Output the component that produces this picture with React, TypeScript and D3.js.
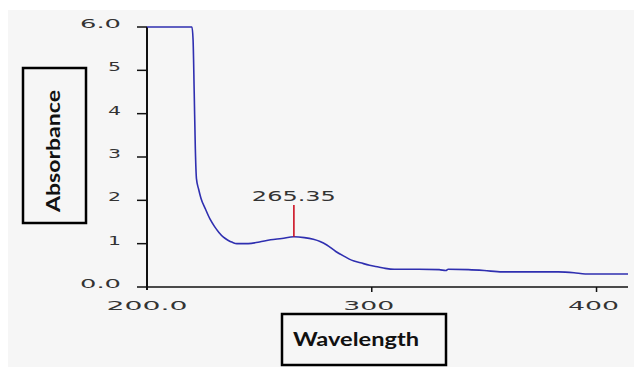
import * as d3 from "d3";

// UV spectrum
const wavelength = [200, 220, 220.5, 221, 221.5, 222, 223, 224, 226, 228, 230, 232, 234, 236, 238, 240, 245, 250, 255, 260, 265.35, 270, 274, 277, 280, 284, 288, 291, 295, 299, 303, 306, 310, 321, 330, 333, 334, 343, 350, 358, 370, 383, 390, 395, 400, 414];
const absorbance = [6.0, 6.0, 5.7, 4.5, 3.2, 2.5, 2.25, 2.05, 1.8, 1.57, 1.4, 1.26, 1.15, 1.08, 1.03, 1.0, 1.0, 1.04, 1.09, 1.12, 1.16, 1.14, 1.1, 1.05, 0.97, 0.82, 0.7, 0.62, 0.56, 0.5, 0.46, 0.43, 0.41, 0.41, 0.4, 0.38, 0.41, 0.4, 0.38, 0.35, 0.35, 0.35, 0.33, 0.3, 0.3, 0.3];

const yTicks = [0, 1, 2, 3, 4, 5, 6];
const yTickLabels = ["0.0", "1", "2", "3", "4", "5", "6.0"];
const xTicks = [200, 300, 400];
const xTickLabels = ["200.0", "300", "400"];

const peakWl = 265.35;
const peakAbs = 1.16;
const peakLabel = "265.35";

const W = 634;
const H = 367;

export default function App() {
  const x = d3.scaleLinear().domain([200, 414]).range([147, 628]);
  const y = d3.scaleLinear().domain([0, 6]).range([287, 27]);

  const line = d3
    .line<number>()
    .x((_, i) => x(wavelength[i]))
    .y((d) => y(d))
    .curve(d3.curveMonotoneX);

  const tickFont = { fontFamily: "DejaVu Sans", fontSize: 13, fill: "#333" };
  const labelWidth = (s: string) => (s.length === 1 ? 13 : s.length === 3 && s.includes(".") ? 41 : s.length === 3 ? 51 : 81);

  return (
    <div style={{ position: "absolute", left: 0, top: 0 }}>
      <svg width={W} height={H} style={{ display: "block" }}>
        <rect x={0} y={0} width={W} height={H} fill="#ffffff" />
        <rect x={8} y={10} width={W - 8} height={H - 10} fill="#f6f6f6" />

        {/* y axis */}
        <line x1={x(200)} x2={x(200)} y1={y(6)} y2={y(0) + 3} stroke="#111" strokeWidth={2} />
        {yTicks.map((t, i) => (
          <g key={t}>
            <line x1={x(200) - 10} x2={x(200)} y1={y(t)} y2={y(t)} stroke="#111" strokeWidth={1.5} />
            <text
              x={121}
              y={y(t) + 1}
              textAnchor="end"
              textLength={labelWidth(yTickLabels[i])}
              lengthAdjust="spacingAndGlyphs"
              {...tickFont}
            >
              {yTickLabels[i]}
            </text>
          </g>
        ))}

        {/* x axis */}
        <line x1={x(200)} x2={x(414)} y1={y(0)} y2={y(0)} stroke="#111" strokeWidth={1.5} />
        {xTicks.map((t, i) => (
          <g key={t}>
            {t !== 200 && <line x1={x(t)} x2={x(t)} y1={y(0)} y2={y(0) + 5} stroke="#111" strokeWidth={1.5} />}
            <text
              x={x(t) - (t === 200 ? 0 : 3)}
              y={310}
              textAnchor="middle"
              textLength={labelWidth(xTickLabels[i])}
              lengthAdjust="spacingAndGlyphs"
              {...tickFont}
            >
              {xTickLabels[i]}
            </text>
          </g>
        ))}

        {/* spectrum */}
        <path d={line(absorbance) ?? ""} fill="none" stroke="#2f2fb0" strokeWidth={1.6} />

        {/* peak marker */}
        <line x1={x(peakWl)} x2={x(peakWl)} y1={y(peakAbs)} y2={205} stroke="#cc1122" strokeWidth={1.6} />
        <text
          x={x(peakWl)}
          y={201}
          textAnchor="middle"
          textLength={84}
          lengthAdjust="spacingAndGlyphs"
          {...tickFont}
          fontSize={14}
        >
          {peakLabel}
        </text>

        {/* axis titles in boxes */}
        <rect x={23} y={68} width={63} height={155} fill="none" stroke="#000" strokeWidth={2.5} />
        <text
          transform="translate(60,151) rotate(-90)"
          textAnchor="middle"
          fontFamily="Lato"
          fontWeight="bold"
          fontSize={19}
          textLength={122}
          lengthAdjust="spacingAndGlyphs"
          fill="#111"
        >
          Absorbance
        </text>

        <rect x={282} y={314} width={164} height={51} fill="none" stroke="#000" strokeWidth={2.5} />
        <text
          x={356}
          y={346}
          textAnchor="middle"
          fontFamily="Lato"
          fontWeight="bold"
          fontSize={19}
          textLength={126}
          lengthAdjust="spacingAndGlyphs"
          fill="#111"
        >
          Wavelength
        </text>
      </svg>
    </div>
  );
}
